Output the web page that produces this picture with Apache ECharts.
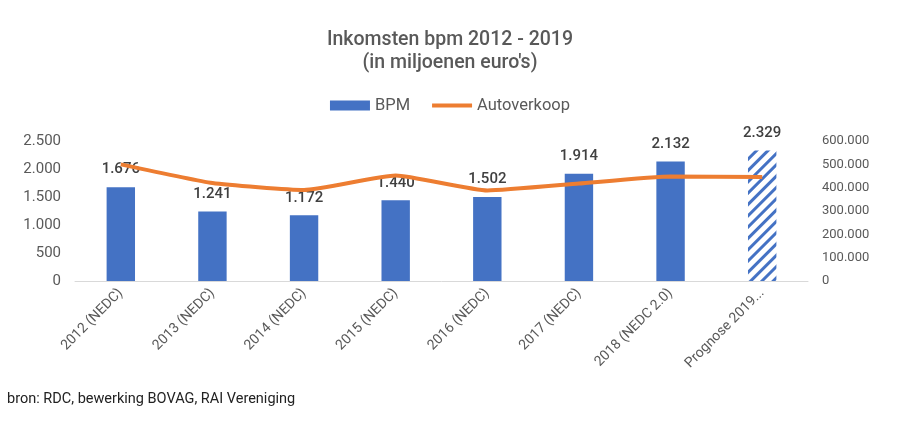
<!DOCTYPE html>
<html>
<head>
<meta charset="utf-8">
<script src="https://cdn.jsdelivr.net/npm/echarts@6/dist/echarts.min.js"></script>
<style>
  html, body { margin: 0; padding: 0; background: #fff; }
  #chart { width: 900px; height: 425px; }
</style>
</head>
<body>
<div id="chart"></div>
<script>
  // categorieen en waarden
  var categories = ['2012 (NEDC)', '2013 (NEDC)', '2014 (NEDC)', '2015 (NEDC)', '2016 (NEDC)', '2017 (NEDC)', '2018 (NEDC 2.0)', 'Prognose 2019...'];
  var bpm = [1676, 1241, 1172, 1440, 1502, 1914, 2132, 2329];
  var autoverkoop = [500000, 420000, 390000, 452000, 388000, 418000, 448000, 446000];
  var leftTicks = [0, 500, 1000, 1500, 2000, 2500];
  var rightTicks = [0, 100000, 200000, 300000, 400000, 500000, 600000];

  var FONT = 'Roboto';
  var blue = '#4472C4';
  var orange = '#ED7D31';

  function nl(v) {
    return String(v).replace(/\B(?=(\d{3})+(?!\d))/g, '.');
  }

  var bpmData = bpm.map(function (v, i) {
    if (i === bpm.length - 1) {
      return {
        value: v,
        itemStyle: {
          color: '#fff',
          decal: {
            symbol: 'rect',
            color: blue,
            dashArrayX: [1, 0],
            dashArrayY: [3, 5],
            rotation: -Math.PI / 4,
            symbolSize: 1
          }
        }
      };
    }
    return v;
  });

  var chart = echarts.init(document.getElementById('chart'));
  var option = {
    animation: false,
    title: {
      text: 'Inkomsten bpm 2012 - 2019\n(in miljoenen euro\'s)',
      left: 'center',
      top: 24,
      textStyle: { fontFamily: FONT, fontSize: 19.5, fontWeight: 500, color: '#595959', lineHeight: 23 }
    },
    legend: {
      top: 92,
      left: 'center',
      itemWidth: 40,
      itemHeight: 10,
      itemGap: 20,
      textStyle: { fontFamily: FONT, fontSize: 16.5, color: '#595959' },
      data: [
        { name: 'BPM', icon: 'rect' },
        { name: 'Autoverkoop', itemStyle: { opacity: 0 }, lineStyle: { width: 4, color: orange } }
      ]
    },
    grid: { left: 75, right: 92, top: 141, bottom: 144 },
    xAxis: {
      type: 'category',
      data: categories,
      axisLine: { lineStyle: { color: '#d9d9d9', width: 1 } },
      axisTick: { show: false },
      axisLabel: { interval: 0, rotate: 45, margin: 10, fontFamily: FONT, fontSize: 14, color: '#595959' }
    },
    yAxis: [
      {
        type: 'value',
        min: leftTicks[0],
        max: leftTicks[leftTicks.length - 1],
        interval: 500,
        splitLine: { show: false },
        axisLine: { show: false },
        axisLabel: { fontFamily: FONT, fontSize: 15, color: '#595959', margin: 14, formatter: nl }
      },
      {
        type: 'value',
        min: rightTicks[0],
        max: rightTicks[rightTicks.length - 1],
        interval: 100000,
        splitLine: { show: false },
        axisLine: { show: false },
        axisLabel: { fontFamily: FONT, fontSize: 13, color: '#595959', margin: 14, formatter: nl }
      }
    ],
    series: [
      {
        name: 'BPM',
        type: 'bar',
        data: bpmData,
        barWidth: '31%',
        itemStyle: { color: blue },
        label: {
          show: true,
          position: 'top',
          distance: 10,
          fontFamily: FONT,
          fontSize: 15,
          fontWeight: 500,
          color: '#404040',
          formatter: function (p) { return nl(p.value); }
        }
      },
      {
        name: 'Autoverkoop',
        type: 'line',
        yAxisIndex: 1,
        data: autoverkoop,
        smooth: 0.15,
        showSymbol: false,
        symbol: 'none',
        lineStyle: { color: orange, width: 4 },
        itemStyle: { color: orange }
      }
    ],
    graphic: [
      {
        type: 'text',
        left: 7,
        top: 392,
        style: { text: 'bron: RDC, bewerking BOVAG, RAI Vereniging', font: '14.5px Roboto', fill: '#222' }
      }
    ]
  };
  chart.setOption(option);
  window.addEventListener('resize', function () {
    chart.resize();
  });
</script>
</body>
</html>
